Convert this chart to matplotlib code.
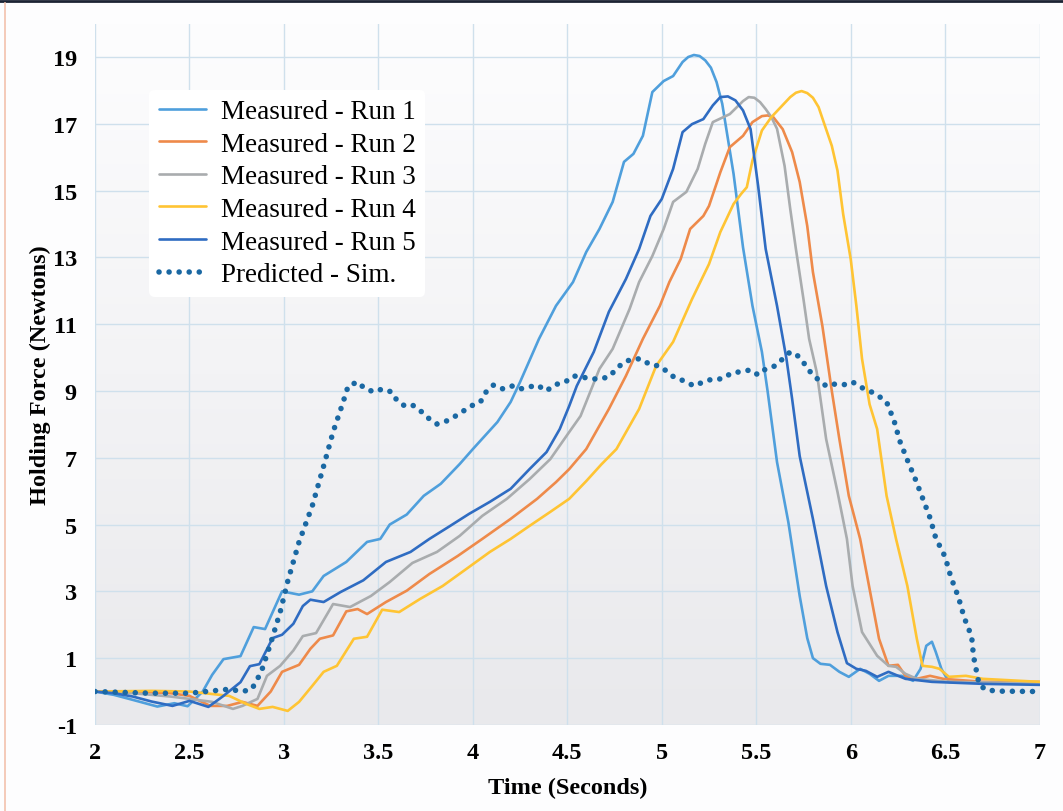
import numpy as np
import matplotlib
matplotlib.use("Agg")
import matplotlib.pyplot as plt
from matplotlib.colors import LinearSegmentedColormap
from matplotlib.lines import Line2D

plt.rcParams["axes.unicode_minus"] = False

# ---- data ----
run1_t = [2.0, 2.1, 2.2, 2.33, 2.42, 2.49, 2.57, 2.62, 2.68, 2.77, 2.84, 2.90, 2.95, 2.99,
          3.08, 3.15, 3.21, 3.33, 3.44, 3.51, 3.56, 3.65, 3.74, 3.83, 3.93, 4.0, 4.13, 4.2,
          4.25, 4.35, 4.44, 4.53, 4.6, 4.67, 4.74, 4.8, 4.85, 4.9, 4.95, 5.01, 5.06, 5.11,
          5.14, 5.17, 5.2, 5.23, 5.26, 5.29, 5.32, 5.38, 5.43, 5.48, 5.53, 5.56, 5.61, 5.67,
          5.73, 5.77, 5.8, 5.84, 5.89, 5.94, 5.99, 6.05, 6.1, 6.15, 6.2, 6.27, 6.33, 6.37,
          6.40, 6.43, 6.45, 6.48, 6.52, 6.7, 7.0]
run1_f = [0.0, -0.1, -0.25, -0.45, -0.35, -0.44, 0.0, 0.5, 0.97, 1.06, 1.93, 1.87, 2.5, 3.0,
          2.9, 3.0, 3.46, 3.88, 4.48, 4.57, 5.0, 5.3, 5.86, 6.22, 6.81, 7.26, 8.07, 8.67,
          9.27, 10.56, 11.55, 12.26, 13.16, 13.85, 14.66, 15.86, 16.1, 16.64, 17.95, 18.28, 18.43, 18.85,
          19.0, 19.06, 19.03, 18.9, 18.68, 18.25, 17.6, 15.5, 13.3, 11.55, 10.17, 9.0, 6.87, 5.07,
          2.86, 1.6, 1.0, 0.83, 0.8, 0.59, 0.44, 0.68, 0.53, 0.32, 0.47, 0.47, 0.32, 0.68,
          1.37, 1.49, 1.19, 0.68, 0.29, 0.27, 0.25]

run2_t = [2.0, 2.2, 2.4, 2.5, 2.61, 2.7, 2.78, 2.86, 2.93, 2.99, 3.08, 3.14, 3.19, 3.26,
          3.33, 3.39, 3.44, 3.54, 3.65, 3.77, 3.92, 4.05, 4.2, 4.34, 4.44, 4.51, 4.6, 4.72,
          4.81, 4.9, 4.99, 5.04, 5.1, 5.15, 5.22, 5.25, 5.31, 5.36, 5.43, 5.48, 5.53, 5.56,
          5.59, 5.64, 5.69, 5.73, 5.77, 5.8, 5.85, 5.9, 5.94, 5.99, 6.05, 6.1, 6.15, 6.2,
          6.25, 6.29, 6.35, 6.42, 6.49, 6.7, 7.0]
run2_f = [0.0, 0.0, -0.05, -0.13, -0.43, -0.43, -0.31, -0.43, 0.0, 0.59, 0.8, 1.28, 1.58, 1.68,
          2.4, 2.47, 2.32, 2.68, 3.02, 3.52, 4.06, 4.57, 5.17, 5.77, 6.27, 6.66, 7.26, 8.46,
          9.45, 10.56, 11.55, 12.26, 12.95, 13.85, 14.24, 14.54, 15.55, 16.3, 16.64, 17.05, 17.23, 17.25,
          17.2, 16.84, 16.15, 15.26, 13.94, 12.56, 10.95, 9.0, 7.56, 5.86, 4.57, 3.07, 1.58, 0.77,
          0.8, 0.47, 0.38, 0.47, 0.38, 0.29, 0.29]

run3_t = [2.0, 2.2, 2.4, 2.5, 2.62, 2.73, 2.78, 2.86, 2.91, 2.98, 3.05, 3.1, 3.17, 3.26,
          3.35, 3.46, 3.56, 3.68, 3.81, 3.93, 4.05, 4.18, 4.3, 4.41, 4.51, 4.57, 4.67, 4.74,
          4.83, 4.88, 4.95, 5.01, 5.06, 5.13, 5.19, 5.23, 5.27, 5.36, 5.43, 5.46, 5.49, 5.52,
          5.55, 5.58, 5.61, 5.65, 5.68, 5.71, 5.75, 5.78, 5.82, 5.87, 5.93, 5.98, 6.01, 6.06,
          6.14, 6.2, 6.24, 6.29, 6.35, 6.52, 7.0]
run3_f = [0.0, -0.05, -0.15, -0.22, -0.31, -0.52, -0.43, -0.22, 0.47, 0.77, 1.23, 1.66, 1.75, 2.62,
          2.53, 2.86, 3.28, 3.85, 4.18, 4.66, 5.26, 5.77, 6.36, 6.96, 7.77, 8.25, 9.66, 10.26,
          11.46, 12.26, 13.04, 13.85, 14.66, 14.96, 15.65, 16.4, 17.05, 17.29, 17.68, 17.8, 17.78, 17.65,
          17.44, 17.2, 16.85, 15.74, 14.45, 13.25, 11.75, 10.56, 9.57, 7.56, 5.98, 4.57, 3.16, 1.78,
          1.07, 0.77, 0.74, 0.53, 0.38, 0.29, 0.25]

run4_t = [2.0, 2.3, 2.5, 2.71, 2.8, 2.87, 2.94, 3.02, 3.08, 3.15, 3.21, 3.28, 3.37, 3.44,
          3.52, 3.61, 3.72, 3.84, 3.98, 4.09, 4.2, 4.3, 4.41, 4.51, 4.6, 4.68, 4.76, 4.88,
          4.97, 5.06, 5.16, 5.25, 5.31, 5.38, 5.42, 5.45, 5.48, 5.53, 5.58, 5.63, 5.68, 5.71,
          5.74, 5.77, 5.8, 5.83, 5.86, 5.9, 5.93, 5.96, 6.0, 6.03, 6.06, 6.1, 6.14, 6.19,
          6.24, 6.3, 6.35, 6.38, 6.43, 6.47, 6.52, 6.61, 6.7, 6.8, 7.0]
run4_f = [0.0, 0.02, 0.0, -0.13, -0.37, -0.52, -0.46, -0.58, -0.31, 0.17, 0.59, 0.77, 1.58, 1.64,
          2.45, 2.38, 2.77, 3.16, 3.73, 4.18, 4.57, 4.96, 5.38, 5.77, 6.3, 6.8, 7.26, 8.46,
          9.75, 10.47, 11.75, 12.8, 13.76, 14.6, 14.9, 15.1, 15.9, 16.8, 17.2, 17.5, 17.8, 17.93,
          17.98, 17.92, 17.78, 17.5, 17.0, 16.34, 15.6, 14.3, 12.95, 11.55, 9.96, 8.6, 7.86, 5.86,
          4.57, 3.16, 1.58, 0.77, 0.74, 0.68, 0.44, 0.47, 0.38, 0.35, 0.29]

run5_t = [2.0, 2.1, 2.2, 2.3, 2.41, 2.5, 2.6, 2.68, 2.77, 2.82, 2.87, 2.94, 2.99, 3.05,
          3.1, 3.14, 3.21, 3.3, 3.42, 3.54, 3.67, 3.77, 3.88, 3.98, 4.09, 4.2, 4.3, 4.39,
          4.46, 4.51, 4.55, 4.64, 4.72, 4.81, 4.88, 4.94, 5.0, 5.06, 5.11, 5.16, 5.22, 5.27,
          5.31, 5.35, 5.39, 5.43, 5.47, 5.51, 5.55, 5.61, 5.66, 5.69, 5.73, 5.8, 5.87, 5.93,
          5.98, 6.03, 6.08, 6.14, 6.2, 6.29, 6.43, 6.7, 7.0]
run5_f = [0.0, -0.05, -0.15, -0.3, -0.43, -0.28, -0.46, -0.13, 0.28, 0.76, 0.82, 1.6, 1.7, 2.03,
          2.56, 2.75, 2.68, 2.98, 3.33, 3.88, 4.18, 4.57, 4.96, 5.32, 5.68, 6.07, 6.66, 7.17,
          7.86, 8.55, 9.15, 10.17, 11.37, 12.35, 13.25, 14.24, 14.75, 15.65, 16.75, 16.99, 17.14, 17.55,
          17.8, 17.82, 17.7, 17.4, 16.84, 15.14, 13.25, 11.55, 9.96, 8.76, 7.05, 5.17, 3.16, 1.78,
          0.85, 0.68, 0.62, 0.44, 0.59, 0.38, 0.29, 0.23, 0.2]

sim_t = [2.0, 2.29, 2.5, 2.71, 2.78, 2.83, 2.88, 2.93, 2.98, 3.02, 3.08, 3.15, 3.21, 3.26,
         3.31, 3.34, 3.39, 3.43, 3.48, 3.52, 3.57, 3.6, 3.64, 3.68, 3.73, 3.77, 3.81, 3.86,
         3.9, 3.95, 3.99, 4.04, 4.07, 4.11, 4.16, 4.21, 4.25, 4.3, 4.34, 4.39, 4.43, 4.49,
         4.53, 4.58, 4.62, 4.67, 4.72, 4.76, 4.8, 4.85, 4.89, 4.94, 4.99, 5.03, 5.07, 5.12,
         5.17, 5.22, 5.27, 5.32, 5.37, 5.41, 5.47, 5.51, 5.55, 5.6, 5.64, 5.68, 5.72, 5.76,
         5.79, 5.83, 5.87, 5.9, 5.96, 6.01, 6.05, 6.1, 6.14, 6.19, 6.23, 6.26, 6.3, 6.34,
         6.38, 6.42, 6.45, 6.5, 6.53, 6.57, 6.6, 6.62, 6.64, 6.65, 6.67, 6.68, 6.72, 6.8, 7.0]
sim_f = [0.0, -0.05, -0.05, 0.07, 0.0, 0.07, 0.59, 1.45, 2.38, 3.3, 4.48, 5.56, 6.75, 7.77,
         8.61, 9.15, 9.27, 9.06, 8.97, 9.06, 8.97, 8.7, 8.55, 8.58, 8.37, 8.16, 8.01, 8.1,
         8.22, 8.4, 8.55, 8.67, 8.97, 9.18, 9.06, 9.15, 9.06, 9.12, 9.18, 9.0, 9.18, 9.27,
         9.45, 9.42, 9.36, 9.36, 9.42, 9.66, 9.87, 9.96, 9.96, 9.78, 9.75, 9.57, 9.39, 9.3,
         9.15, 9.27, 9.36, 9.36, 9.54, 9.57, 9.63, 9.48, 9.66, 9.75, 9.96, 10.17, 10.05, 9.78,
         9.54, 9.33, 9.15, 9.21, 9.18, 9.27, 9.12, 9.0, 8.88, 8.67, 8.1, 7.5, 6.93, 6.39,
         5.8, 5.2, 4.6, 4.03, 3.43, 2.83, 2.23, 1.93, 1.66, 1.06, 0.49, 0.2, 0.04, 0.01, 0.0]

run_labels = ["Measured - Run 1", "Measured - Run 2", "Measured - Run 3",
              "Measured - Run 4", "Measured - Run 5"]
sim_label = "Predicted - Sim."
run_colors = ["#4f9fdc", "#ee8a4a", "#a9acae", "#ffc433", "#2f6cc2"]
sim_color = "#1a68a3"

x_ticks = [2, 2.5, 3, 3.5, 4, 4.5, 5, 5.5, 6, 6.5, 7]
y_ticks = [-1, 1, 3, 5, 7, 9, 11, 13, 15, 17, 19]

serif = ["Liberation Serif", "DejaVu Serif"]

fig = plt.figure(figsize=(10.63, 8.12), dpi=100, facecolor="#fdfdfe")
ax = fig.add_axes([0.0894, 0.106, 0.8886, 0.8637])

# soft vertical gradient behind the plot
cmap = LinearSegmentedColormap.from_list("bg", ["#e9e9ec", "#fdfdfe"])
ax.imshow(np.linspace(0, 1, 256).reshape(-1, 1), extent=[2, 7, -1, 20],
          aspect="auto", cmap=cmap, origin="lower", zorder=0)

runs = [(run1_t, run1_f), (run2_t, run2_f), (run3_t, run3_f),
        (run4_t, run4_f), (run5_t, run5_f)]
for (t, f), c, lab in zip(runs, run_colors, run_labels):
    ax.plot(t, f, color=c, lw=1.9, label=lab, zorder=3,
            solid_joinstyle="round", solid_capstyle="round")

ax.plot(sim_t, sim_f, color=sim_color, lw=4.0, linestyle=(0, (0.01, 1.8)),
        dash_capstyle="round", label=sim_label, zorder=4)

ax.set_xlim(2, 7)
ax.set_ylim(-1, 20)
ax.set_xticks(x_ticks)
ax.set_xticklabels([f"{v:g}" for v in x_ticks])
ax.set_yticks(y_ticks)
ax.set_yticklabels([str(v) for v in y_ticks])
ax.grid(True, color="#cfe0ec", lw=1.0, zorder=1)
ax.set_axisbelow(True)
for s in ax.spines.values():
    s.set_visible(False)
ax.tick_params(axis="y", length=0, pad=13)
ax.tick_params(axis="x", length=0, pad=12)
for lbl in ax.get_xticklabels() + ax.get_yticklabels():
    lbl.set_family(serif)
    lbl.set_fontweight("bold")
    lbl.set_fontsize(17.5)

ax.set_xlabel("Time (Seconds)", family=serif, fontweight="bold", fontsize=17.5, labelpad=10)
ax.set_ylabel("Holding Force (Newtons)", family=serif, fontweight="bold", fontsize=17.5, labelpad=1)

leg = ax.legend(loc="upper left", bbox_to_anchor=(0.043, 0.925), frameon=True,
                prop={"family": serif, "size": 19.5}, handlelength=1.75,
                handletextpad=0.55, labelspacing=0.28, borderpad=0.35)
leg.get_frame().set_facecolor("white")
leg.get_frame().set_edgecolor("none")
leg.get_frame().set_alpha(1.0)

# thin frame lines of the original screenshot
fig.add_artist(Line2D([0, 1], [0.998, 0.998], transform=fig.transFigure, color="#1c2333", lw=2.0))
fig.add_artist(Line2D([0.005, 0.005], [0, 0.995], transform=fig.transFigure, color="#f3c2ad", lw=1.2))

fig.savefig("out.png", dpi=100, facecolor=fig.get_facecolor())
